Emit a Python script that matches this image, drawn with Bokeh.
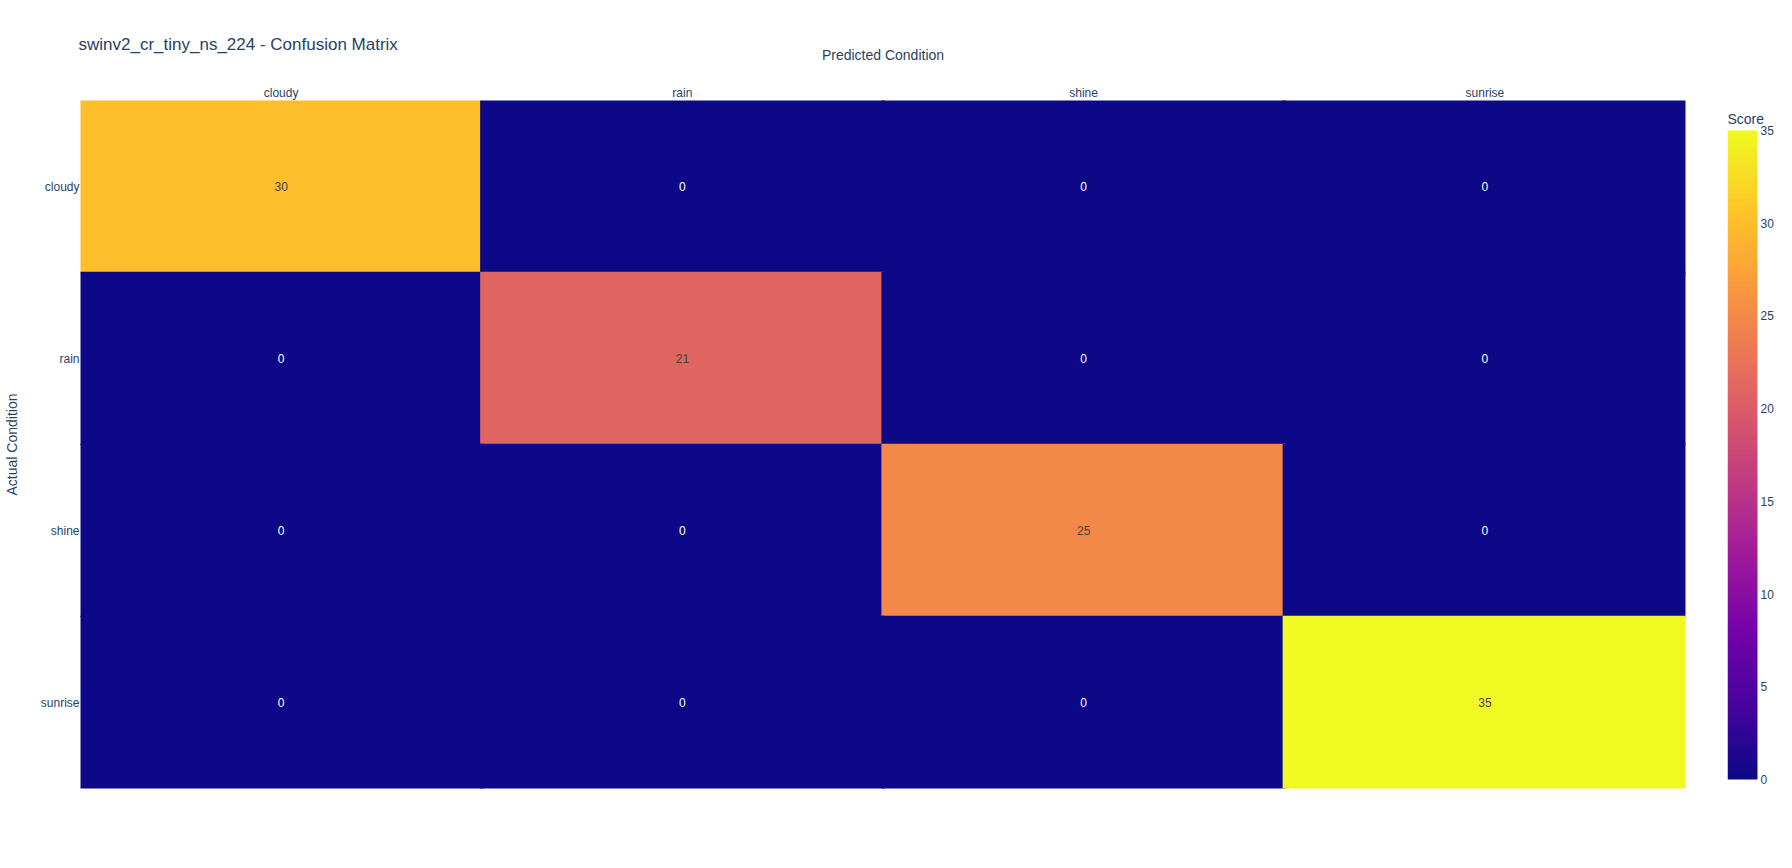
import numpy as np
from bokeh.plotting import figure
from bokeh.layouts import row
from bokeh.models import (ColumnDataSource, LinearColorMapper, FactorRange, Label, Range1d)
from bokeh.transform import transform
from bokeh.core.properties import value
from bokeh.embed import file_html
from bokeh.resources import INLINE

# ---- data ----
predicted = ["cloudy", "rain", "shine", "sunrise"]
actual = ["cloudy", "rain", "shine", "sunrise"]
row_cloudy = [30, 0, 0, 0]
row_rain = [0, 21, 0, 0]
row_shine = [0, 0, 25, 0]
row_sunrise = [0, 0, 0, 35]
cbar_ticks = [0, 5, 10, 15, 20, 25, 30, 35]
title_text = "swinv2_cr_tiny_ns_224 - Confusion Matrix"

matrix = [row_cloudy, row_rain, row_shine, row_sunrise]

# plotly plasma stops -> 256 palette
stops = ['#0d0887', '#46039f', '#7201a8', '#9c179e', '#bd3786',
         '#d8576b', '#ed7953', '#fb9f3a', '#fdca26', '#f0f921']
def h2rgb(h):
    return [int(h[i:i + 2], 16) for i in (1, 3, 5)]
rgb = np.array([h2rgb(s) for s in stops], dtype=float)
pos = np.linspace(0, 1, len(stops))
pal = []
for tt in np.linspace(0, 1, 256):
    r = np.interp(tt, pos, rgb[:, 0]); g = np.interp(tt, pos, rgb[:, 1]); b = np.interp(tt, pos, rgb[:, 2])
    pal.append("#%02x%02x%02x" % (int(round(r)), int(round(g)), int(round(b))))

xs, ys, vals, txt, tcol = [], [], [], [], []
for i, a in enumerate(actual):
    for j, pcat in enumerate(predicted):
        v = matrix[i][j]
        xs.append(pcat); ys.append(a); vals.append(v); txt.append(str(v))
        tcol.append("#ffffff" if v < 17.5 else "#444444")
src = ColumnDataSource(dict(x=xs, y=ys, v=vals, t=txt, c=tcol))

lo, hi = cbar_ticks[0], cbar_ticks[-1]
mapper = LinearColorMapper(palette=pal, low=lo, high=hi)
FONT = "Liberation Sans"
TXT = "#2a3f5f"

TOP, BOTTOM = 100, 80
p = figure(width=1700, height=868, x_range=FactorRange(*predicted),
           y_range=FactorRange(*list(reversed(actual))), x_axis_location="above",
           output_backend="svg", toolbar_location=None,
           min_border_left=80, min_border_top=TOP, min_border_bottom=BOTTOM, min_border_right=15)
p.outline_line_color = None
p.grid.visible = False

p.rect(x="x", y="y", width=1.008, height=1.01, source=src,
       fill_color=transform("v", mapper), line_color=None)
p.text(x="x", y="y", text="t", source=src, text_color="c", text_align="center",
       text_baseline="middle", text_font=value(FONT), text_font_size="12px")

for ax in (p.xaxis[0], p.yaxis[0]):
    ax.axis_line_color = None
    ax.major_tick_line_color = None
    ax.minor_tick_line_color = None
    ax.major_label_text_font = FONT
    ax.major_label_text_font_size = "12px"
    ax.major_label_text_color = TXT
    ax.axis_label_text_font = FONT
    ax.axis_label_text_font_size = "14px"
    ax.axis_label_text_font_style = "normal"
    ax.axis_label_text_color = TXT

p.xaxis.axis_label = "Predicted Condition"
p.xaxis.major_label_standoff = -5
p.xaxis.axis_label_standoff = 20
p.yaxis.axis_label = "Actual Condition"
p.yaxis.major_label_standoff = -5
p.yaxis.axis_label_standoff = 18

p.title.text = title_text
p.title.align = "left"
p.title.offset = -2
p.title.standoff = -20
p.title.text_font = FONT
p.title.text_font_size = "17px"
p.title.text_font_style = "normal"
p.title.text_color = TXT

# ---- colour bar as its own small figure (frame 1727..1792 x 100..788, bar 130..779) ----
bar_top, bar_bot, bar_w = 130, 779, 30
ppu = (bar_bot - bar_top) / (hi - lo)
y0 = lo - (868 - BOTTOM - bar_bot) / ppu
y1 = hi + (bar_top - TOP) / ppu
cb = figure(width=92, height=868, x_range=Range1d(0, 65), y_range=Range1d(y0, y1),
            x_axis_location=None, y_axis_location=None,
            output_backend="svg", toolbar_location=None,
            min_border_left=27, min_border_right=0, min_border_top=TOP, min_border_bottom=BOTTOM)
cb.outline_line_color = None
cb.grid.visible = False
grad = np.linspace(lo, hi, 256).reshape(256, 1)
cb.image(image=[grad], x=0, y=lo, dw=bar_w, dh=hi - lo, color_mapper=mapper)
cb.text(x=[bar_w + 3] * len(cbar_ticks), y=cbar_ticks, text=[str(t) for t in cbar_ticks],
        text_font=value(FONT), text_font_size="12px", text_color=TXT,
        text_align="left", text_baseline="middle")
cb.add_layout(Label(x=0, y=hi + (bar_top - 118) / ppu, text="Score", text_font=FONT,
                    text_font_size="14px", text_color=TXT, text_baseline="middle",
                    text_align="left"))

layout = row(p, cb, spacing=0)
open("out.html", "w").write(file_html(layout, INLINE))
